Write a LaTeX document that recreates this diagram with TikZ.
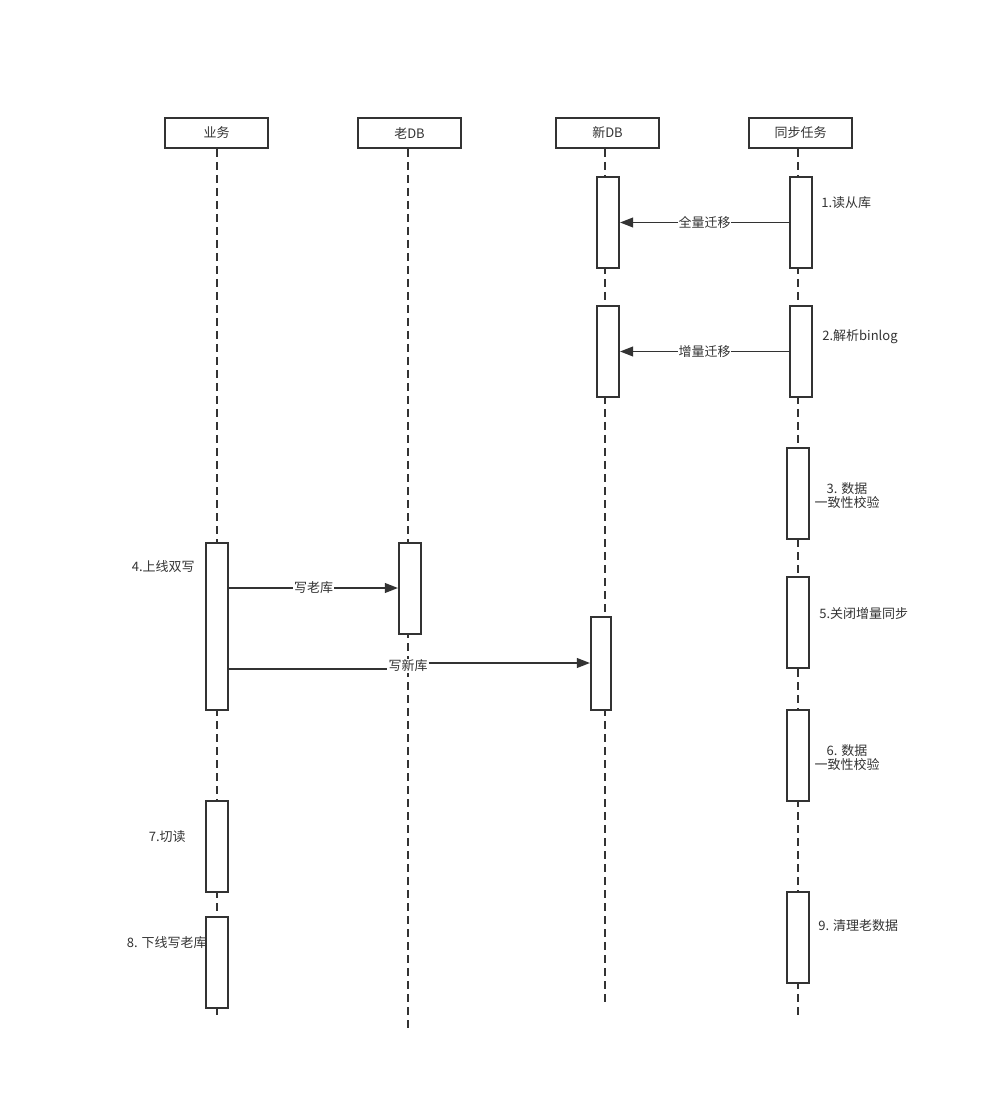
\documentclass[tikz,border=0pt]{standalone}
\usepackage{fontspec}
\setmainfont{Noto Sans CJK SC}
\usetikzlibrary{arrows.meta}
\definecolor{cline}{RGB}{51,51,51}
\tikzset{pix/.style={x=0.02cm,y=-0.02cm,font=\fontsize{7.4}{9}\selectfont,text=cline}}
\tikzset{hdr/.style={draw=cline,line width=1.1pt,fill=white,minimum width=2.06cm,minimum height=0.6cm,inner sep=0pt},
         act/.style={draw=cline,line width=1.1pt,fill=white,minimum width=0.44cm,inner sep=0pt},
         life/.style={cline,line width=1.1pt,dash pattern=on 4.6pt off 2.8pt},
         msg/.style={cline,line width=1.1pt,-{Triangle[length=7.5pt,width=5.5pt]}},
         lbl/.style={fill=white,inner sep=0.5pt},
         note/.style={inner sep=0pt,align=center}}
% activation box: name, x, top, bottom
\newcommand{\actbox}[4]{\node[act,minimum height={(#4-#3)*0.02cm}] (#1) at (#2,{(#3+#4)/2}) {};}

\begin{document}
\begin{tikzpicture}[pix]
    \useasboundingbox (0,0) rectangle (1000,1094);
    \node[hdr] (biz)  at (216.5,133) {业务};
    \node[hdr] (old)  at (409.5,133) {老DB};
    \node[hdr] (new)  at (607.5,133) {新DB};
    \node[hdr] (sync) at (800.5,133) {同步任务};
    \coordinate (bizend)  at (217,1020);
    \coordinate (oldend)  at (408,1030);
    \coordinate (newend)  at (605,1005);
    \coordinate (syncend) at (798,1020);
    \draw[life] (biz.south -| bizend) -- (bizend);
    \draw[life] (old.south -| oldend) -- (oldend);
    \draw[life] (new.south -| newend) -- (newend);
    \draw[life] (sync.south -| syncend) -- (syncend);
    % activations
    \actbox{n1}{608}{177}{268}
    \actbox{n2}{608}{306}{397}
    \actbox{s1}{801}{177}{268}
    \actbox{s2}{801}{306}{397}
    \actbox{s3}{798}{448}{539}
    \actbox{s5}{798}{577}{668}
    \actbox{s6}{798}{710}{801}
    \actbox{s9}{798}{892}{983}
    \actbox{b4}{217}{543}{710}
    \actbox{b7}{217}{801}{892}
    \actbox{b8}{217}{917}{1008}
    \actbox{o4}{410}{543}{634}
    \node[act,minimum width=0.4cm,minimum height={93*0.02cm}] (n4) at (601,663.5) {};
    % messages
    \draw[msg] (s1.west) -- node[lbl] (m1) {全量迁移} (n1.east);
    \draw[msg] (s2.west) -- node[lbl] (m2) {增量迁移} (n2.east);
    \draw[msg] (b4.east |- 0,588) -- node[lbl] (m3) {写老库} (o4.west |- 0,588);
    \coordinate (wn1) at (b4.east |- 0,669);
    \coordinate (wn2) at (n4.west |- 0,663);
    \node[lbl] (m4) at (408,666) {写新库};
    \draw[cline,line width=1.1pt] (wn1) -- (m4.west |- wn1);
    \draw[msg] (m4.east |- wn2) -- (wn2);
    % notes
    \node[note,anchor=west] (t1) at (821,203) {1.读从库};
    \node[note,anchor=west] (t2) at (822,337) {2.解析binlog};
    \node[note] (t3) at (847,496) {3. 数据\\[-1pt]一致性校验};
    \node[note,anchor=east] (t4) at (195,567) {4.上线双写};
    \node[note,anchor=west] (t5) at (819,614) {5.关闭增量同步};
    \node[note] (t6) at (847,758) {6. 数据\\[-1pt]一致性校验};
    \node[note,anchor=east] (t7) at (186,837) {7.切读};
    \node[note,anchor=east] (t8) at (207,943) {8. 下线写老库};
    \node[note,anchor=west] (t9) at (818,926) {9. 清理老数据};
\end{tikzpicture}
\end{document}
